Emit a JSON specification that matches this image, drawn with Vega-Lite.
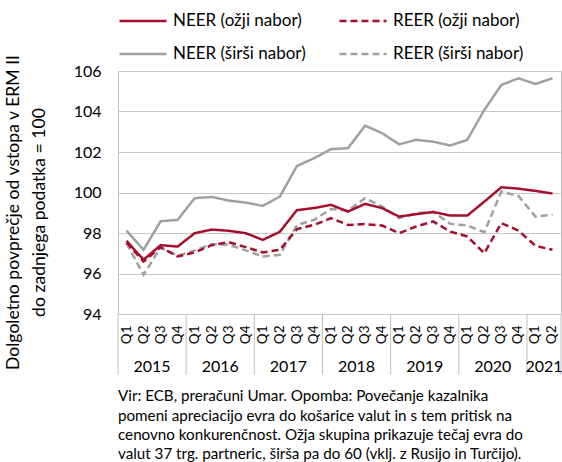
{
  "$schema": "https://vega.github.io/schema/vega-lite/v6.json",
  "width": 443,
  "height": 243,
  "autosize": {"type": "none"},
  "padding": {"left": 118, "top": 71, "right": 1, "bottom": 148},
  "config": {
    "font": "Lato",
    "view": {"stroke": "#BFBFBF", "strokeWidth": 1}
  },
  "title": {
    "text": [
      "Vir: ECB, preračuni Umar. Opomba: Povečanje kazalnika",
      "pomeni apreciacijo evra do košarice valut in s tem pritisk na",
      "cenovno konkurenčnost. Ožja skupina prikazuje tečaj evra do",
      "valut 37 trg. partneric, širša pa do 60 (vklj. z Rusijo in Turčijo)."
    ],
    "orient": "bottom",
    "anchor": "start",
    "frame": "group",
    "fontSize": 15.2,
    "fontWeight": "normal",
    "color": "black",
    "lineHeight": 19.4,
    "offset": 14
  },
  "datasets": {
    "idx": [
      {"q": "2015 Q1", "NEER (ožji nabor)": 97.61, "REER (ožji nabor)": 97.53, "NEER (širši nabor)": 98.12, "REER (širši nabor)": 97.50},
      {"q": "2015 Q2", "NEER (ožji nabor)": 96.68, "REER (ožji nabor)": 96.59, "NEER (širši nabor)": 97.17, "REER (širši nabor)": 95.94},
      {"q": "2015 Q3", "NEER (ožji nabor)": 97.40, "REER (ožji nabor)": 97.30, "NEER (širši nabor)": 98.58, "REER (širši nabor)": 97.28},
      {"q": "2015 Q4", "NEER (ožji nabor)": 97.33, "REER (ožji nabor)": 96.84, "NEER (širši nabor)": 98.65, "REER (širši nabor)": 96.87},
      {"q": "2016 Q1", "NEER (ožji nabor)": 97.99, "REER (ožji nabor)": 97.04, "NEER (širši nabor)": 99.72, "REER (širši nabor)": 97.14},
      {"q": "2016 Q2", "NEER (ožji nabor)": 98.17, "REER (ožji nabor)": 97.40, "NEER (širši nabor)": 99.78, "REER (širši nabor)": 97.45},
      {"q": "2016 Q3", "NEER (ožji nabor)": 98.11, "REER (ožji nabor)": 97.55, "NEER (širši nabor)": 99.60, "REER (širši nabor)": 97.42},
      {"q": "2016 Q4", "NEER (ožji nabor)": 97.99, "REER (ožji nabor)": 97.30, "NEER (širši nabor)": 99.50, "REER (širši nabor)": 97.14},
      {"q": "2017 Q1", "NEER (ožji nabor)": 97.66, "REER (ožji nabor)": 97.04, "NEER (širši nabor)": 99.34, "REER (širši nabor)": 96.84},
      {"q": "2017 Q2", "NEER (ožji nabor)": 98.06, "REER (ožji nabor)": 97.17, "NEER (širši nabor)": 99.80, "REER (širši nabor)": 96.92},
      {"q": "2017 Q3", "NEER (ožji nabor)": 99.13, "REER (ožji nabor)": 98.19, "NEER (širši nabor)": 101.31, "REER (širši nabor)": 98.39},
      {"q": "2017 Q4", "NEER (ožji nabor)": 99.23, "REER (ožji nabor)": 98.40, "NEER (širši nabor)": 101.69, "REER (širši nabor)": 98.65},
      {"q": "2018 Q1", "NEER (ožji nabor)": 99.39, "REER (ožji nabor)": 98.73, "NEER (širši nabor)": 102.14, "REER (širši nabor)": 99.18},
      {"q": "2018 Q2", "NEER (ožji nabor)": 99.06, "REER (ožji nabor)": 98.40, "NEER (širši nabor)": 102.19, "REER (širši nabor)": 99.11},
      {"q": "2018 Q3", "NEER (ožji nabor)": 99.44, "REER (ožji nabor)": 98.44, "NEER (širši nabor)": 103.30, "REER (širši nabor)": 99.72},
      {"q": "2018 Q4", "NEER (ožji nabor)": 99.23, "REER (ožji nabor)": 98.37, "NEER (širši nabor)": 102.93, "REER (širši nabor)": 99.31},
      {"q": "2019 Q1", "NEER (ožji nabor)": 98.81, "REER (ožji nabor)": 97.99, "NEER (širši nabor)": 102.38, "REER (širši nabor)": 98.73},
      {"q": "2019 Q2", "NEER (ožji nabor)": 98.93, "REER (ožji nabor)": 98.32, "NEER (širši nabor)": 102.60, "REER (širši nabor)": 98.98},
      {"q": "2019 Q3", "NEER (ožji nabor)": 99.04, "REER (ožji nabor)": 98.57, "NEER (širši nabor)": 102.51, "REER (širši nabor)": 99.03},
      {"q": "2019 Q4", "NEER (ožji nabor)": 98.86, "REER (ožji nabor)": 98.07, "NEER (širši nabor)": 102.32, "REER (širši nabor)": 98.45},
      {"q": "2020 Q1", "NEER (ožji nabor)": 98.86, "REER (ožji nabor)": 97.83, "NEER (širši nabor)": 102.60, "REER (širši nabor)": 98.37},
      {"q": "2020 Q2", "NEER (ožji nabor)": 99.55, "REER (ožji nabor)": 97.00, "NEER (širši nabor)": 104.08, "REER (širši nabor)": 98.04},
      {"q": "2020 Q3", "NEER (ožji nabor)": 100.26, "REER (ožji nabor)": 98.49, "NEER (širši nabor)": 105.31, "REER (širši nabor)": 100.05},
      {"q": "2020 Q4", "NEER (ožji nabor)": 100.19, "REER (ožji nabor)": 98.12, "NEER (širši nabor)": 105.64, "REER (širši nabor)": 99.83},
      {"q": "2021 Q1", "NEER (ožji nabor)": 100.08, "REER (ožji nabor)": 97.37, "NEER (širši nabor)": 105.36, "REER (širši nabor)": 98.81},
      {"q": "2021 Q2", "NEER (ožji nabor)": 99.95, "REER (ožji nabor)": 97.17, "NEER (širši nabor)": 105.64, "REER (širši nabor)": 98.90}
    ],
    "years": [
      {"year": "2015", "first": "2015 Q1", "mid": "2015 Q3"},
      {"year": "2016", "first": "2016 Q1", "mid": "2016 Q3"},
      {"year": "2017", "first": "2017 Q1", "mid": "2017 Q3"},
      {"year": "2018", "first": "2018 Q1", "mid": "2018 Q3"},
      {"year": "2019", "first": "2019 Q1", "mid": "2019 Q3"},
      {"year": "2020", "first": "2020 Q1", "mid": "2020 Q3"},
      {"year": "2021", "first": "2021 Q1", "mid": "2021 Q2"}
    ]
  },
  "layer": [
    {
      "data": {"name": "idx"},
      "transform": [
        {"fold": ["REER (širši nabor)", "NEER (širši nabor)", "REER (ožji nabor)", "NEER (ožji nabor)"], "as": ["series", "value"]}
      ],
      "mark": {"type": "line", "strokeWidth": 2.5},
      "encoding": {
        "x": {
          "field": "q",
          "type": "ordinal",
          "title": null,
          "scale": {
            "domain": ["2015 Q1","2015 Q2","2015 Q3","2015 Q4","2016 Q1","2016 Q2","2016 Q3","2016 Q4","2017 Q1","2017 Q2","2017 Q3","2017 Q4","2018 Q1","2018 Q2","2018 Q3","2018 Q4","2019 Q1","2019 Q2","2019 Q3","2019 Q4","2020 Q1","2020 Q2","2020 Q3","2020 Q4","2021 Q1","2021 Q2"],
            "type": "band",
            "paddingInner": 0,
            "paddingOuter": 0
          },
          "axis": {
            "title": null,
            "labelExpr": "slice(datum.value, 5)",
            "labelAngle": 270,
            "labelAlign": "right",
            "labelBaseline": "middle",
            "labelFontSize": 13.5,
            "labelColor": "black",
            "labelPadding": 11,
            "ticks": false,
            "domain": false,
            "grid": false
          }
        },
        "y": {
          "field": "value",
          "type": "quantitative",
          "scale": {"domain": [94, 106], "nice": false, "zero": false},
          "axis": {
            "title": ["Dolgoletno povprečje od vstopa v ERM II", "do zadnjega podatka = 100"],
            "titleFontSize": 17.6,
            "titleFontWeight": "normal",
            "titleColor": "black",
            "titleLineHeight": 26,
            "titleX": -96,
            "titleY": 141,
            "titleAlign": "center",
            "titleBaseline": "bottom",
            "values": [94, 96, 98, 100, 102, 104, 106],
            "labelFontSize": 16,
            "labelColor": "black",
            "labelPadding": 17,
            "ticks": false,
            "domain": false,
            "gridColor": "#C8C8C8",
            "gridWidth": 1
          }
        },
        "color": {
          "field": "series",
          "type": "nominal",
          "scale": {
            "domain": ["NEER (ožji nabor)", "REER (ožji nabor)", "NEER (širši nabor)", "REER (širši nabor)"],
            "range": ["#A50F2D", "#A50F2D", "#A0A0A0", "#A0A0A0"]
          },
          "legend": {
            "title": null,
            "orient": "none",
            "direction": "horizontal",
            "legendX": 0,
            "legendY": -75,
            "columns": 2,
            "columnPadding": 28,
            "rowPadding": -21,
            "symbolType": "stroke",
            "symbolSize": 2209,
            "symbolStrokeWidth": 2.5,
            "labelFontSize": 17,
            "labelColor": "black",
            "labelOffset": 5
          }
        },
        "strokeDash": {
          "field": "series",
          "type": "nominal",
          "scale": {
            "domain": ["NEER (ožji nabor)", "REER (ožji nabor)", "NEER (širši nabor)", "REER (širši nabor)"],
            "range": [[1, 0], [7, 4], [1, 0], [7, 4]]
          },
          "legend": {
            "title": null,
            "orient": "none",
            "direction": "horizontal",
            "legendX": 0,
            "legendY": -75,
            "columns": 2,
            "columnPadding": 28,
            "rowPadding": -21,
            "symbolType": "stroke",
            "symbolSize": 2209,
            "symbolStrokeWidth": 2.5,
            "labelFontSize": 17,
            "labelColor": "black",
            "labelOffset": 5
          }
        }
      }
    },
    {
      "data": {"name": "years"},
      "mark": {"type": "rule", "color": "#BFBFBF", "strokeWidth": 1},
      "encoding": {
        "x": {"field": "first", "type": "ordinal", "bandPosition": 0, "title": null},
        "y": {"datum": 94},
        "y2": {"datum": 91}
      }
    },
    {
      "data": {"name": "years"},
      "transform": [{"filter": "datum.year == '2021'"}],
      "mark": {"type": "rule", "color": "#BFBFBF", "strokeWidth": 1},
      "encoding": {
        "x": {"field": "first", "type": "ordinal", "bandPosition": 2, "title": null},
        "y": {"datum": 94},
        "y2": {"datum": 91}
      }
    },
    {
      "data": {"name": "years"},
      "mark": {"type": "text", "fontSize": 16, "baseline": "middle", "align": "center", "color": "black"},
      "encoding": {
        "x": {"field": "mid", "type": "ordinal", "bandPosition": 0, "title": null},
        "y": {"datum": 91.4},
        "text": {"field": "year"}
      }
    }
  ]
}
